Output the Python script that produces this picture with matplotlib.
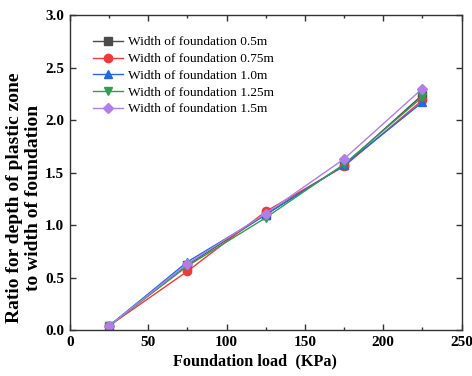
import matplotlib
matplotlib.use("Agg")
import matplotlib.pyplot as plt
from matplotlib.ticker import MultipleLocator

# foundation load (KPa)
load = [25, 75, 125, 175, 225]

# ratio of plastic zone depth to foundation width
w05 = [0.04, 0.62, 1.10, 1.57, 2.24]
w075 = [0.04, 0.56, 1.13, 1.56, 2.19]
w10 = [0.04, 0.65, 1.10, 1.57, 2.17]
w125 = [0.04, 0.61, 1.07, 1.58, 2.22]
w15 = [0.04, 0.63, 1.11, 1.63, 2.30]

labels = ["Width of foundation 0.5m", "Width of foundation 0.75m",
          "Width of foundation 1.0m", "Width of foundation 1.25m",
          "Width of foundation 1.5m"]

plt.rcParams['font.family'] = ['Liberation Serif', 'DejaVu Serif']

fig = plt.figure(figsize=(4.72, 3.76), dpi=100)
ax = fig.add_axes([0.148, 0.122, 0.830, 0.838])

series = [w05, w075, w10, w125, w15]
colors = ['#4a4a4a', '#f03a3a', '#2467e0', '#2e9e55', '#b07ee6']
markers = ['s', 'o', '^', 'v', 'D']
sizes = [5.5, 6, 6, 6, 5.5]

for ys, c, m, s, lab in zip(series, colors, markers, sizes, labels):
    ax.plot(load, ys, color=c, marker=m, markersize=s, linewidth=1.0, label=lab)

ax.set_xlim(0, 250)
ax.set_ylim(0, 3.0)
ax.xaxis.set_major_locator(MultipleLocator(50))
ax.xaxis.set_minor_locator(MultipleLocator(25))
ax.yaxis.set_major_locator(MultipleLocator(0.5))
ax.yaxis.set_major_formatter(matplotlib.ticker.FormatStrFormatter('%.1f'))

ax.tick_params(which='both', direction='in', top=True, right=True, width=1.0, color='#333333')
ax.tick_params(which='major', length=4.5, labelsize=11, pad=4)
ax.tick_params(axis='x', which='minor', length=2.5)
for lbl in ax.get_xticklabels() + ax.get_yticklabels():
    lbl.set_fontweight('bold')
for sp in ax.spines.values():
    sp.set_linewidth(1.0)
    sp.set_color('#333333')

ax.set_xlabel("Foundation load  (KPa)", fontsize=11.7, fontweight='bold')
ax.xaxis.set_label_coords(0.472, -0.075)
ax.set_ylabel("Ratio for depth of plastic zone\nto width of foundation",
              fontsize=14, fontweight='bold', linespacing=1.15)
ax.yaxis.set_label_coords(-0.072, 0.42)

leg = ax.legend(loc='upper left', bbox_to_anchor=(0.046, 0.95), frameon=False,
                fontsize=9.6, handlelength=2.25, handletextpad=0.38,
                labelspacing=0.33, borderaxespad=0)

fig.savefig("out.png", dpi=100)
